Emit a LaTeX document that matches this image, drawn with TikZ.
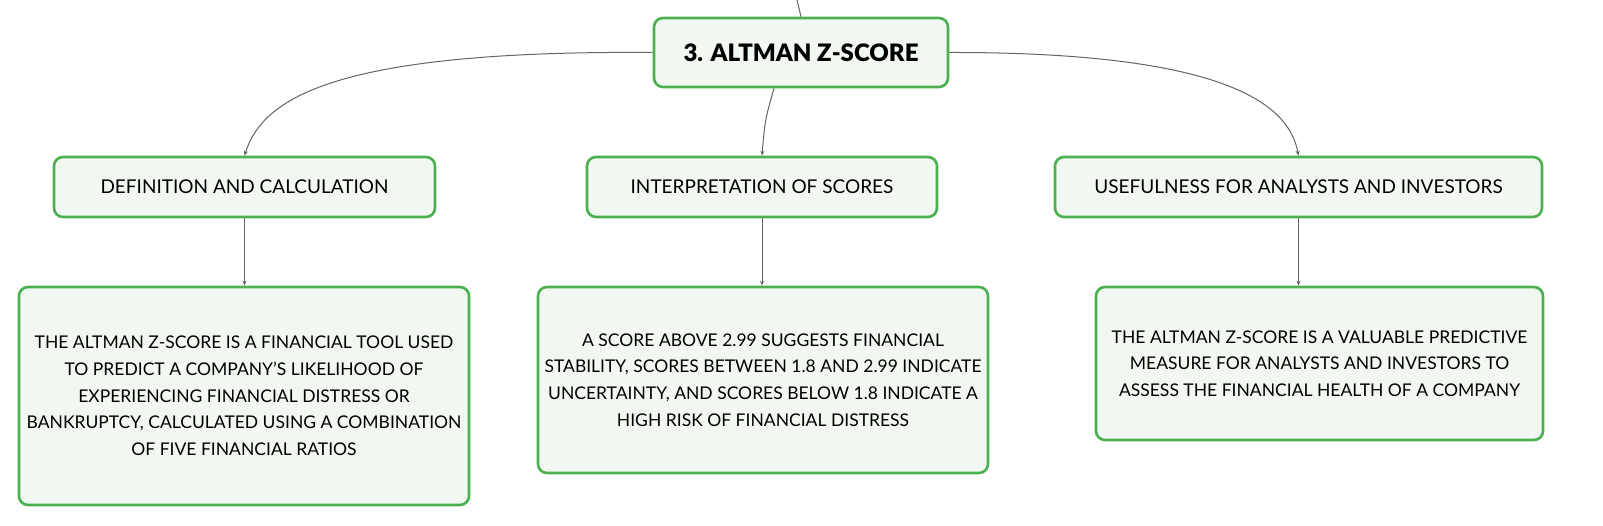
\documentclass[tikz,border=0pt]{standalone}
\usepackage{fontspec}
\setmainfont{Lato}[BoldFont={Lato Black}]
\usetikzlibrary{arrows.meta}
\definecolor{boxgreen}{RGB}{76,175,80}
\definecolor{boxfill}{RGB}{241,248,242}
\definecolor{linkgray}{RGB}{100,100,100}
\tikzset{
  basebox/.style={draw=boxgreen, line width=2.6pt, fill=boxfill, rounded corners=9pt, align=center, inner sep=0pt},
  rootbox/.style={basebox, minimum width=294pt, minimum height=69pt, font=\fontsize{24}{29}\selectfont\bfseries},
  topicbox/.style={basebox, minimum height=60pt, font=\fontsize{19}{24}\selectfont},
  textbox/.style={basebox, minimum width=450pt, font=\fontsize{17.5}{26.7}\selectfont},
  link/.style={draw=linkgray, line width=1pt},
  linkarrow/.style={link, -{Stealth[length=5pt,width=4pt]}}
}
\begin{document}
\begin{tikzpicture}[x=1pt,y=-1pt]
\useasboundingbox (0,0) rectangle (1603,526);
\coordinate (topin) at (797,0);
\node[rootbox] (root) at (801,52.5) {3. ALTMAN Z-SCORE};
\node[topicbox, minimum width=381pt] (def) at (244.5,187) {DEFINITION AND CALCULATION};
\node[topicbox, minimum width=350pt] (interp) at (762,187) {INTERPRETATION OF SCORES};
\node[topicbox, minimum width=487pt] (use) at (1298.5,187) {USEFULNESS FOR ANALYSTS AND INVESTORS};
\node[textbox, minimum height=218pt] (b1) at (244,396) {THE ALTMAN Z-SCORE IS A FINANCIAL TOOL USED\\TO PREDICT A COMPANY’S LIKELIHOOD OF\\EXPERIENCING FINANCIAL DISTRESS OR\\BANKRUPTCY, CALCULATED USING A COMBINATION\\OF FIVE FINANCIAL RATIOS};
\node[textbox, minimum height=186pt] (b2) at (763,380) {A SCORE ABOVE 2.99 SUGGESTS FINANCIAL\\STABILITY, SCORES BETWEEN 1.8 AND 2.99 INDICATE\\UNCERTAINTY, AND SCORES BELOW 1.8 INDICATE A\\HIGH RISK OF FINANCIAL DISTRESS};
\node[textbox, minimum width=447pt, minimum height=153pt] (b3) at (1319.5,363.5) {THE ALTMAN Z-SCORE IS A VALUABLE PREDICTIVE\\MEASURE FOR ANALYSTS AND INVESTORS TO\\ASSESS THE FINANCIAL HEALTH OF A COMPANY};
% connectors
\draw[link] (topin) .. controls (799,8) .. (root.north);
\draw[linkarrow] (root.west) .. controls (330,50) and (262,100) .. (def.north);
\draw[linkarrow] ([xshift=-27pt]root.south) .. controls (765,120) .. (interp.north);
\draw[linkarrow] (root.east) .. controls (1240,52) and (1290,110) .. (use.north);
\draw[linkarrow] (def.south) -- (def.south |- b1.north);
\draw[linkarrow] (interp.south) -- (interp.south |- b2.north);
\draw[linkarrow] (use.south) -- (use.south |- b3.north);
\end{tikzpicture}
\end{document}
